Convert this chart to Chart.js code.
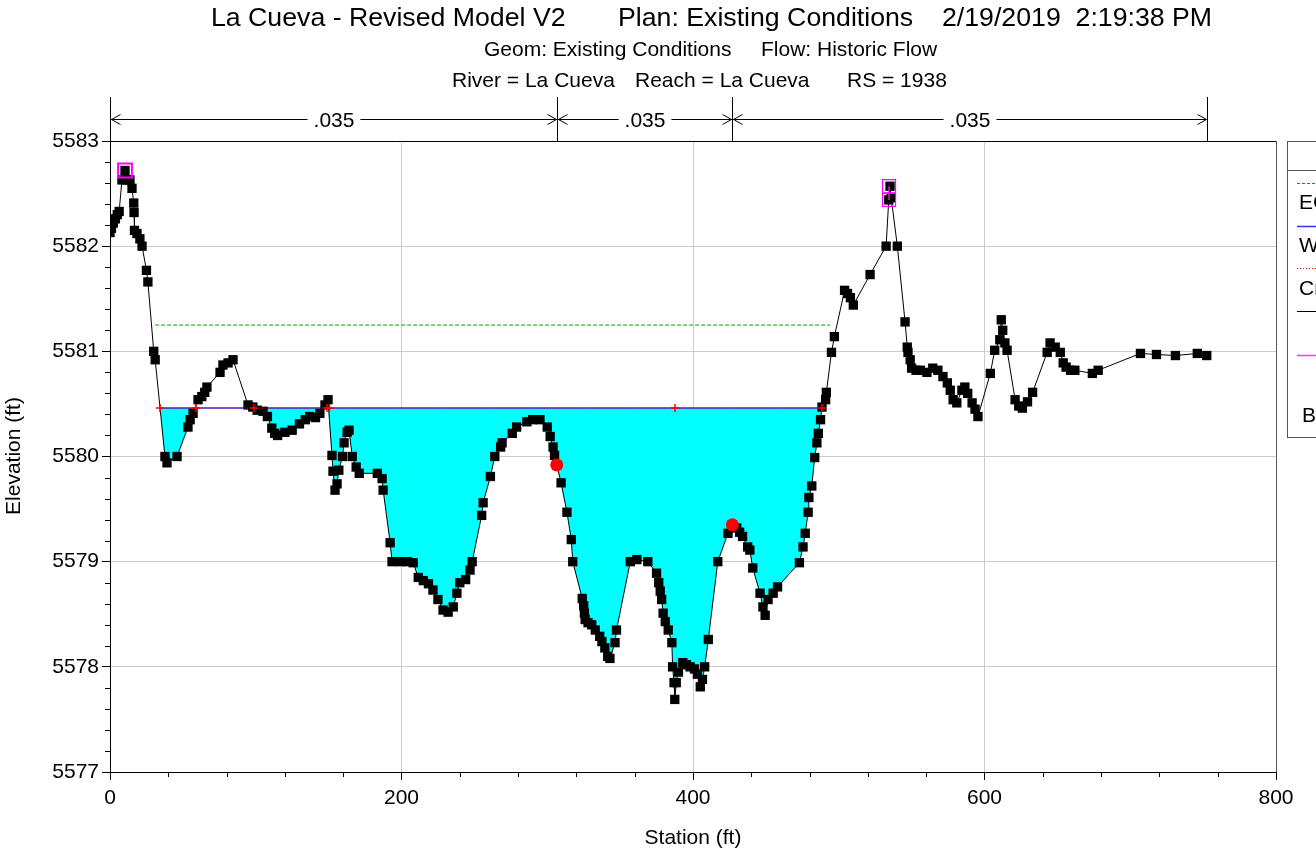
<!DOCTYPE html>
<html>
<head>
<meta charset="utf-8">
<title>La Cueva - RS 1938 cross section</title>
<script src="https://cdn.jsdelivr.net/npm/chart.js@4.4.1/dist/chart.umd.min.js"></script>
<style>
  html, body { margin: 0; padding: 0; background: #fff; }
  #wrap { width: 1316px; height: 856px; }
</style>
</head>
<body>
<div id="wrap"><canvas id="xs" width="1316" height="856"></canvas></div>
<script>
// ---- Cross section data (station ft, elevation ft) ----
const groundStation = [
  0, 1.0, 2.3, 3.7, 5.0, 6.3, 8.2, 10.3, 11.7, 13.7, 15.1, 16.3, 16.5, 16.8, 18.5, 20.5, 22.0, 25.0, 26.0, 30.0,
  31.0, 37.7, 39.1, 46.0, 53.5, 55.0, 57.0, 60.4, 63.0, 65.0, 66.5, 75.5, 77.5, 81.0, 84.4, 94.7, 98.0, 101.0, 105.0, 108.0,
  111.0, 113.0, 115.0, 120.0, 125.0, 130.0, 134.0, 137.0, 141.0, 144.0, 147.5, 149.6, 152.3, 153.0, 154.4, 155.8, 157.0, 159.5, 160.6, 162.7,
  164.0, 166.2, 168.9, 171.0, 183.4, 186.7, 187.4, 192.2, 193.5, 199.0, 204.0, 208.0, 211.5, 215.0, 218.5, 221.6, 225.0, 228.5, 232.0, 235.5,
  238.0, 240.0, 244.0, 247.0, 248.5, 255.0, 256.0, 261.0, 264.0, 268.0, 269.0, 276.0, 279.0, 286.0, 290.0, 295.0, 300.0, 302.0, 304.0, 305.0,
  306.5, 309.5, 313.5, 316.5, 317.5, 324.0, 325.0, 325.5, 326.0, 328.0, 330.5, 333.0, 336.0, 337.5, 339.5, 341.5, 343.0, 346.5, 347.5, 357.0,
  361.5, 369.0, 375.0, 376.5, 377.5, 378.5, 379.5, 381.0, 383.0, 385.5, 386.0, 387.0, 387.5, 388.5, 390.0, 393.0, 395.5, 398.0, 401.0, 403.0,
  405.0, 406.5, 408.0, 410.5, 417.0, 424.0, 427.0, 430.0, 432.0, 434.0, 437.5, 439.0, 441.0, 446.0, 448.0, 449.5, 451.5, 455.0, 458.0, 473.0,
  475.5, 477.0, 479.0, 479.5, 481.5, 483.5, 485.0, 486.0, 487.5, 488.5, 491.0, 491.5, 495.0, 497.0, 504.0, 506.0, 508.0, 510.0, 521.5, 532.5,
  534.3, 535.2, 536.0, 540.2, 545.5, 547.0, 547.5, 549.0, 550.0, 553.0, 556.0, 560.5, 564.5, 568.0, 571.5, 574.5, 576.5, 578.5, 581.0, 584.5,
  586.5, 588.5, 591.5, 593.5, 595.5, 604.0, 607.0, 610.5, 611.5, 612.5, 614.0, 615.5, 621.0, 623.5, 626.0, 629.5, 633.0, 643.0, 645.0, 648.5,
  652.0, 654.0, 656.0, 659.0, 662.0, 674.0, 678.0, 707.0, 718.0, 731.0, 746.0, 752.5
];
const groundElev = [
  5582.13, 5582.17, 5582.22, 5582.26, 5582.30, 5582.33, 5582.63, 5582.72, 5582.63, 5582.63, 5582.55, 5582.41, 5582.32, 5582.15, 5582.12, 5582.07, 5582.00, 5581.77, 5581.66, 5581.00,
  5580.92, 5580.00, 5579.94, 5580.00, 5580.28, 5580.35, 5580.41, 5580.54, 5580.57, 5580.61, 5580.66, 5580.80, 5580.87, 5580.89, 5580.92, 5580.49, 5580.47, 5580.44, 5580.43, 5580.38,
  5580.27, 5580.22, 5580.20, 5580.23, 5580.25, 5580.31, 5580.35, 5580.38, 5580.37, 5580.41, 5580.49, 5580.54, 5580.01, 5579.86, 5579.68, 5579.74, 5579.87, 5580.00, 5580.13, 5580.23,
  5580.25, 5580.00, 5579.90, 5579.84, 5579.84, 5579.79, 5579.68, 5579.18, 5579.00, 5579.00, 5579.00, 5578.99, 5578.85, 5578.82, 5578.79, 5578.73, 5578.64, 5578.54, 5578.52, 5578.57,
  5578.70, 5578.80, 5578.83, 5578.92, 5579.00, 5579.44, 5579.56, 5579.81, 5580.00, 5580.09, 5580.13, 5580.22, 5580.28, 5580.33, 5580.35, 5580.35, 5580.28, 5580.19, 5580.09, 5580.01,
  5579.92, 5579.75, 5579.47, 5579.21, 5579.00, 5578.65, 5578.58, 5578.51, 5578.45, 5578.42, 5578.40, 5578.35, 5578.29, 5578.24, 5578.18, 5578.10, 5578.08, 5578.23, 5578.35, 5579.00,
  5579.02, 5579.00, 5578.89, 5578.80, 5578.72, 5578.64, 5578.51, 5578.43, 5578.35, 5578.23, 5578.00, 5577.85, 5577.69, 5577.85, 5577.95, 5578.04, 5578.02, 5578.00, 5577.98, 5577.93,
  5577.81, 5577.88, 5578.00, 5578.26, 5579.00, 5579.27, 5579.35, 5579.32, 5579.28, 5579.24, 5579.14, 5579.11, 5578.94, 5578.70, 5578.57, 5578.49, 5578.64, 5578.70, 5578.76, 5578.99,
  5579.14, 5579.27, 5579.47, 5579.61, 5579.72, 5579.99, 5580.13, 5580.22, 5580.35, 5580.47, 5580.54, 5580.61, 5580.99, 5581.14, 5581.58, 5581.55, 5581.51, 5581.44, 5581.73, 5582.00,
  5582.44, 5582.57, 5582.46, 5582.00, 5581.28, 5581.04, 5580.99, 5580.92, 5580.84, 5580.82, 5580.82, 5580.80, 5580.84, 5580.82, 5580.76, 5580.70, 5580.63, 5580.54, 5580.51, 5580.63,
  5580.66, 5580.60, 5580.51, 5580.45, 5580.38, 5580.79, 5581.01, 5581.11, 5581.30, 5581.20, 5581.08, 5581.01, 5580.54, 5580.48, 5580.46, 5580.52, 5580.61, 5580.99, 5581.08, 5581.04,
  5580.99, 5580.89, 5580.85, 5580.82, 5580.82, 5580.79, 5580.82, 5580.98, 5580.97, 5580.96, 5580.98, 5580.96
];

// Water surface, energy grade and critical depth (Historic Flow)
const wsElev = 5580.46;
const wsStation = [34.3, 488.5];
const egElev = 5581.25;
const egStation = [31.0, 494.0];
const critStation = [34.3, 59.0, 98.8, 148.9, 150.6, 387.6, 488.5];

// Bank stations, levees, Manning's n
const bankStation = [306.5, 427.0];
const bankElev = [5579.92, 5579.35];
const leveeLeftStation = [10.3];
const leveeLeftElev = [5582.72];
const leveeRightStation = [534.5, 534.5];
const leveeRightElev = [5582.57, 5582.44];
const nStation = [0, 306.5, 427.0, 752.5];
const nValue = ['.035', '.035', '.035'];

// Axis ranges and tick labels
const xTicks = [0, 200, 400, 600, 800];
const yTicks = [5577, 5578, 5579, 5580, 5581, 5582, 5583];

// Text
const titleParts = [['La Cueva - Revised Model V2', 211], ['Plan: Existing Conditions', 618], ['2/19/2019  2:19:38 PM', 942]];
const subtitle1 = [['Geom: Existing Conditions', 484], ['Flow: Historic Flow', 761]];
const subtitle2 = [['River = La Cueva', 452], ['Reach = La Cueva', 635], ['RS = 1938', 847]];
const legendItems = ['EG  Hist', 'WS  Hist', 'Crit  Hist', 'Ground', 'Levee', 'Bank Sta'];

const FONT = '"Liberation Sans", Arial, Helvetica, sans-serif';

// ---- Builders ----
const pts = (xs, ys) => xs.map((x, i) => ({ x, y: Array.isArray(ys) ? ys[i] : ys }));

// Ground clipped to the water surface, with the waterline crossings added,
// used to shade the wetted area.
function wettedProfile(sta, elev, ws, s0, s1) {
  const out = [];
  for (let i = 0; i < sta.length; i++) {
    if (i > 0) {
      const a = elev[i - 1] - ws, b = elev[i] - ws;
      if (a * b < 0) {
        const t = a / (a - b);
        const xs = sta[i - 1] + t * (sta[i] - sta[i - 1]);
        if (xs >= s0 && xs <= s1) out.push({ x: xs, y: ws });
      }
    }
    if (sta[i] >= s0 && sta[i] <= s1) out.push({ x: sta[i], y: Math.min(elev[i], ws) });
  }
  return out;
}

// ---- Decorations: frame, minor ticks, n-value bar, titles, legend ----
const decor = {
  id: 'decor',
  afterDraw(chart) {
    const { ctx, chartArea: a, scales: { x, y } } = chart;
    const px = v => Math.round(v) + 0.5;
    ctx.save();

    // minor ticks
    ctx.strokeStyle = '#000';
    ctx.lineWidth = 1;
    ctx.beginPath();
    for (let s = 0; s <= 800; s += 40) {
      if (s % 200 === 0) continue;
      const xx = px(x.getPixelForValue(s));
      ctx.moveTo(xx, a.bottom); ctx.lineTo(xx, a.bottom + 5);
    }
    for (let k = 0; k <= 30; k++) {
      if (k % 5 === 0) continue;
      const yy = px(y.getPixelForValue(5577 + k * 0.2));
      ctx.moveTo(a.left - 5, yy); ctx.lineTo(a.left, yy);
    }
    ctx.stroke();

    // frame
    ctx.beginPath();
    ctx.strokeStyle = '#000';
    ctx.moveTo(a.left - 8, px(a.top)); ctx.lineTo(a.right, px(a.top));
    ctx.stroke();
    ctx.beginPath();
    ctx.strokeStyle = '#555';
    ctx.moveTo(px(a.right), a.top); ctx.lineTo(px(a.right), a.bottom);
    ctx.stroke();

    // Manning's n bar
    const barY = 119.5;
    const nx = nStation.map(s => px(x.getPixelForValue(s)));
    ctx.strokeStyle = '#000';
    ctx.lineWidth = 1;
    ctx.beginPath();
    nx.forEach(v => { ctx.moveTo(v, 97); ctx.lineTo(v, a.top); });
    ctx.stroke();
    ctx.font = '21px ' + FONT;
    ctx.fillStyle = '#000';
    ctx.textAlign = 'center';
    ctx.textBaseline = 'middle';
    for (let i = 0; i < nValue.length; i++) {
      const l = nx[i], r = nx[i + 1], c = (l + r) / 2;
      const w = ctx.measureText(nValue[i]).width / 2 + 6;
      ctx.beginPath();
      ctx.moveTo(l, barY); ctx.lineTo(c - w, barY);
      ctx.moveTo(c + w, barY); ctx.lineTo(r, barY);
      // arrowheads
      ctx.moveTo(l + 10, barY - 5); ctx.lineTo(l + 1, barY); ctx.lineTo(l + 10, barY + 5);
      ctx.moveTo(r - 10, barY - 5); ctx.lineTo(r - 1, barY); ctx.lineTo(r - 10, barY + 5);
      ctx.stroke();
      ctx.fillText(nValue[i], c, barY + 2);
    }

    // titles
    ctx.textAlign = 'left';
    ctx.font = '26.7px ' + FONT;
    titleParts.forEach(([t, xx]) => ctx.fillText(t, xx, 19));
    ctx.font = '21px ' + FONT;
    subtitle1.forEach(([t, xx]) => ctx.fillText(t, xx, 50));
    subtitle2.forEach(([t, xx]) => ctx.fillText(t, xx, 81));

    // axis titles
    ctx.textAlign = 'center';
    ctx.fillText('Station (ft)', 693, 838);
    ctx.save();
    ctx.translate(14, 456);
    ctx.rotate(-Math.PI / 2);
    ctx.fillText('Elevation (ft)', 0, 0);
    ctx.restore();

    // legend box
    const lx = 1287.5;
    ctx.strokeStyle = '#555';
    ctx.strokeRect(lx, 141.5, 120, 296);
    ctx.beginPath();
    ctx.moveTo(lx, 170.5); ctx.lineTo(1316, 170.5);
    ctx.stroke();
    const sample = (yy, color, dash, w) => {
      ctx.beginPath();
      ctx.strokeStyle = color;
      ctx.lineWidth = w;
      ctx.setLineDash(dash);
      ctx.moveTo(1297, yy); ctx.lineTo(1316, yy);
      ctx.stroke();
      ctx.setLineDash([]);
    };
    sample(183.5, '#00a000', [3, 2], 1);
    sample(226.5, '#3333ff', [], 1.5);
    sample(268.5, '#ff0000', [1, 2], 1);
    sample(311.5, '#000000', [], 1);
    sample(355.5, '#ff33ff', [], 1.5);
    ctx.fillStyle = '#000';
    ctx.textAlign = 'left';
    ctx.font = '21px ' + FONT;
    ctx.fillText(legendItems[0], 1299, 203);
    ctx.fillText(legendItems[1], 1299, 246);
    ctx.fillText(legendItems[2], 1299, 289);
    ctx.fillText(legendItems[5], 1302, 416);

    ctx.restore();
  }
};

const tickFont = { family: FONT, size: 21 };

new Chart(document.getElementById('xs'), {
  type: 'scatter',
  data: {
    datasets: [
      {
        label: 'Wetted area',
        data: wettedProfile(groundStation, groundElev, wsElev, wsStation[0], wsStation[1]),
        showLine: true, borderWidth: 0, borderColor: 'rgba(0,0,0,0)',
        pointRadius: 0, backgroundColor: '#00ffff',
        fill: { value: wsElev }, order: 10
      },
      {
        label: legendItems[0],
        data: pts(egStation, egElev),
        showLine: true, borderColor: '#00a000', borderWidth: 1, borderDash: [4, 2],
        pointRadius: 0, fill: false, order: 9
      },
      {
        label: legendItems[1],
        data: pts(wsStation, wsElev),
        showLine: true, borderColor: '#2a2aff', borderWidth: 1.5,
        pointRadius: 0, fill: false, order: 8
      },
      {
        label: legendItems[2],
        data: pts(critStation, wsElev),
        showLine: true, borderColor: '#ff0000', borderWidth: 1, borderDash: [1, 2],
        pointStyle: 'cross', pointRadius: 4, pointBorderWidth: 1.5,
        pointBorderColor: '#ff0000', fill: false, order: 2.5
      },
      {
        label: legendItems[3],
        data: pts(groundStation, groundElev),
        showLine: true, borderColor: '#000', borderWidth: 1,
        pointStyle: 'rect', pointRadius: 6.6, pointBackgroundColor: '#000',
        pointBorderWidth: 0, fill: false, order: 3
      },
      {
        label: legendItems[5],
        data: pts(bankStation, bankElev),
        showLine: false, pointStyle: 'circle', pointRadius: 6.5,
        pointBackgroundColor: '#ff0000', pointBorderColor: '#ff0000', pointBorderWidth: 0, order: 2
      },
      {
        label: legendItems[4],
        data: pts(leveeLeftStation, leveeLeftElev),
        showLine: false, pointStyle: 'rect', pointRadius: 9.8,
        pointBackgroundColor: 'rgba(0,0,0,0)', pointBorderColor: '#ff00ff', pointBorderWidth: 2, order: 1
      },
      {
        label: legendItems[4] + ' (right)',
        data: pts(leveeRightStation, leveeRightElev),
        showLine: true, borderColor: '#ff00ff', borderWidth: 1.5,
        pointStyle: 'rect', pointRadius: 9.2,
        pointBackgroundColor: 'rgba(0,0,0,0)', pointBorderColor: '#ff00ff', pointBorderWidth: 1.2, order: 1
      }
    ]
  },
  options: {
    responsive: false,
    devicePixelRatio: 1,
    animation: false,
    layout: { padding: { top: 141, right: 40, left: 0, bottom: 0 } },
    plugins: { legend: { display: false }, tooltip: { enabled: false }, title: { display: false } },
    elements: { line: { tension: 0 } },
    scales: {
      x: {
        type: 'linear', min: xTicks[0], max: xTicks[xTicks.length - 1],
        afterBuildTicks: s => { s.ticks = xTicks.map(v => ({ value: v })); },
        ticks: { color: '#000', font: tickFont, padding: 6, maxRotation: 0, callback: v => String(v) },
        grid: { color: '#cccccc', tickColor: '#000', tickLength: 8, lineWidth: 1 },
        border: { color: '#000' },
        afterFit: s => { s.height = 84; }
      },
      y: {
        type: 'linear', min: yTicks[0], max: yTicks[yTicks.length - 1],
        afterBuildTicks: s => { s.ticks = yTicks.map(v => ({ value: v })); },
        ticks: { color: '#000', font: tickFont, padding: 3, callback: v => String(v) },
        grid: { color: '#cccccc', tickColor: '#000', tickLength: 8, lineWidth: 1 },
        border: { color: '#000' },
        afterFit: s => { s.width = 110; }
      }
    }
  },
  plugins: [decor]
});
</script>
</body>
</html>
